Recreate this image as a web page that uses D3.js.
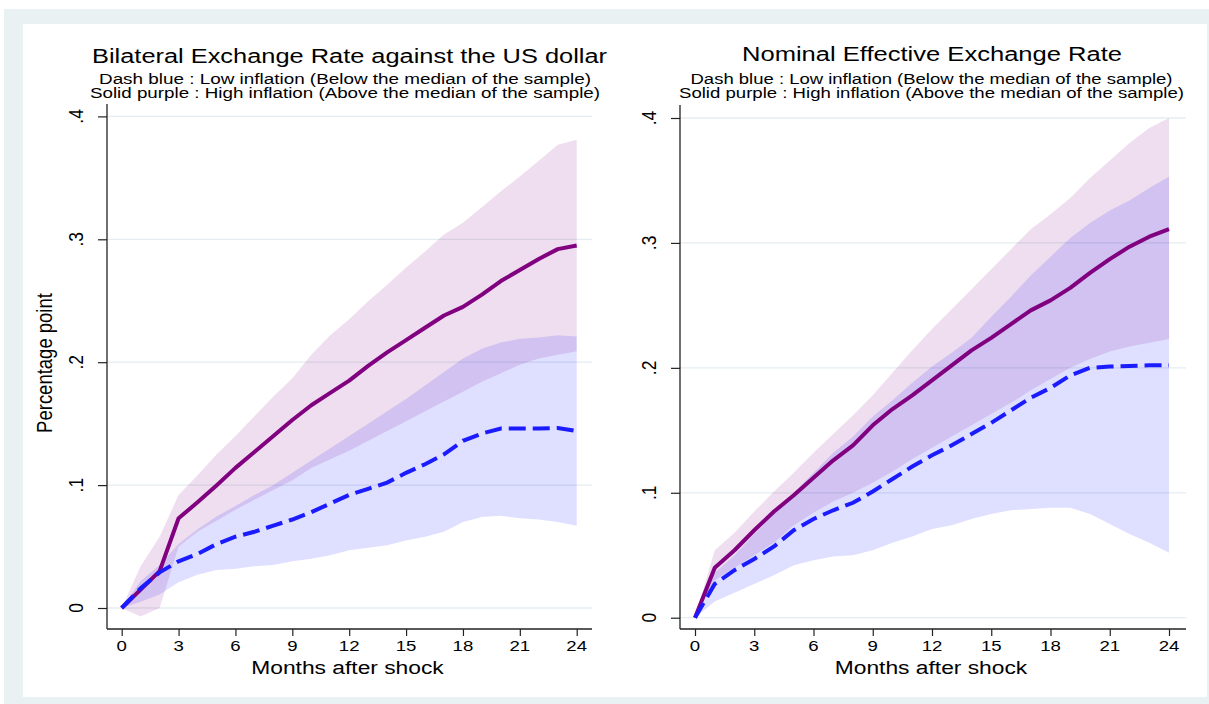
<!DOCTYPE html>
<html lang="en">
<head>
<meta charset="utf-8">
<title>Exchange rate responses</title>
<script src="https://d3js.org/d3.v7.min.js"></script>
<style>
  html, body { margin: 0; padding: 0; background: #ffffff; }
  svg text { font-family: "Liberation Sans", Arial, sans-serif; fill: #000; }
</style>
</head>
<body>
<div id="chart"></div>
<script>
// months after the shock and axis ticks
var months = [0,1,2,3,4,5,6,7,8,9,10,11,12,13,14,15,16,17,18,19,20,21,22,23,24];
var xTicks = [0,3,6,9,12,15,18,21,24];
var yTicks = [0,0.1,0.2,0.3,0.4];
var yTickLabels = ["0",".1",".2",".3",".4"];

// Bilateral exchange rate against the US dollar
var bilatHigh   = [0,0.015,0.030,0.073,0.086,0.0997,0.114,0.127,0.140,0.153,0.165,0.175,0.185,0.197,0.208,0.218,0.228,0.238,0.245,0.255,0.266,0.275,0.284,0.292,0.295];
var bilatHighUp = [0,0.034,0.058,0.092,0.108,0.125,0.140,0.156,0.172,0.187,0.206,0.222,0.235,0.2495,0.263,0.277,0.290,0.304,0.3135,0.326,0.339,0.351,0.364,0.377,0.381];
var bilatHighLo = [0,-0.007,0.000,0.050,0.062,0.071,0.080,0.088,0.096,0.104,0.114,0.121,0.128,0.136,0.144,0.152,0.160,0.168,0.176,0.184,0.191,0.198,0.203,0.206,0.209];
var bilatLow    = [0,0.016,0.029,0.038,0.044,0.052,0.058,0.062,0.067,0.072,0.078,0.085,0.092,0.097,0.102,0.110,0.117,0.125,0.136,0.142,0.146,0.146,0.146,0.1465,0.144];
var bilatLowUp  = [0,0.022,0.035,0.052,0.064,0.0745,0.083,0.092,0.100,0.110,0.120,0.130,0.140,0.150,0.160,0.170,0.181,0.192,0.203,0.211,0.216,0.219,0.220,0.222,0.221];
var bilatLowLo  = [0,0.005,0.011,0.021,0.027,0.031,0.032,0.034,0.035,0.038,0.040,0.043,0.047,0.049,0.051,0.055,0.058,0.062,0.070,0.074,0.075,0.073,0.072,0.070,0.067];

// Nominal effective exchange rate
var neerHigh   = [0,0.040,0.054,0.070,0.085,0.098,0.112,0.126,0.138,0.154,0.167,0.178,0.190,0.202,0.214,0.224,0.235,0.246,0.254,0.264,0.276,0.287,0.297,0.305,0.311];
var neerHighUp = [0,0.054,0.068,0.085,0.101,0.116,0.132,0.147,0.162,0.178,0.196,0.214,0.231,0.247,0.263,0.279,0.295,0.311,0.323,0.336,0.352,0.366,0.380,0.392,0.400];
var neerHighLo = [0,0.030,0.040,0.050,0.060,0.074,0.084,0.093,0.100,0.108,0.117,0.127,0.136,0.145,0.154,0.163,0.172,0.182,0.191,0.200,0.207,0.213,0.217,0.220,0.223];
var neerLow    = [0,0.027,0.038,0.047,0.057,0.070,0.079,0.086,0.092,0.101,0.111,0.121,0.130,0.138,0.147,0.156,0.166,0.176,0.184,0.194,0.200,0.201,0.2015,0.202,0.202];
var neerLowUp  = [0,0.036,0.050,0.067,0.083,0.100,0.116,0.132,0.145,0.161,0.174,0.188,0.201,0.212,0.224,0.241,0.257,0.274,0.289,0.304,0.316,0.326,0.334,0.344,0.353];
var neerLowLo  = [0,0.013,0.020,0.027,0.034,0.042,0.046,0.049,0.050,0.054,0.060,0.065,0.071,0.074,0.079,0.083,0.086,0.087,0.088,0.088,0.083,0.075,0.067,0.060,0.052];

var subtitle1 = "Dash blue : Low inflation (Below the median of the sample)";
var subtitle2 = "Solid purple : High inflation (Above the median of the sample)";

var W = 1209, H = 704;
var stretch = 1.2;   // text in the picture is a bit wider than plain Arial

var svg = d3.select("#chart").append("svg")
    .attr("width", W)
    .attr("height", H);

// outer frame, then the white plot region
svg.append("rect").attr("x", 4).attr("y", 9).attr("width", W - 4).attr("height", H - 9).attr("fill", "#eaf1f3");
svg.append("rect").attr("x", 23).attr("y", 24).attr("width", 1184).attr("height", 673).attr("fill", "#ffffff");

// text that is stretched sideways, optionally turned to read upwards
function wideText(g, x, y, str, size, turned) {
  return g.append("text")
    .attr("transform", "translate(" + x + "," + y + ") scale(" + stretch + ",1)" + (turned ? " rotate(-90)" : ""))
    .attr("text-anchor", "middle")
    .attr("dy", "0.35em")
    .style("font-size", size + "px")
    .text(str);
}

function drawPanel(p) {
  var g = svg.append("g");

  var x = d3.scaleLinear().domain([0, 24]).range([p.x0, p.x1]);
  var y = d3.scaleLinear().domain([0, 0.4]).range([p.y0, p.y4]);

  // gridlines
  g.selectAll(".grid").data(yTicks).enter().append("line")
    .attr("x1", p.axisX).attr("x2", p.gridEnd)
    .attr("y1", function(d) { return y(d); })
    .attr("y2", function(d) { return y(d); })
    .attr("stroke", "#e4edf1")
    .attr("stroke-width", 1.3);

  // confidence bands
  var band = function(lo, up) {
    return d3.area()
      .x(function(d, i) { return x(months[i]); })
      .y0(function(d, i) { return y(lo[i]); })
      .y1(function(d, i) { return y(up[i]); })(months);
  };
  g.append("path").attr("d", band(p.highLo, p.highUp))
    .attr("fill", "#800080").attr("fill-opacity", 0.13);
  g.append("path").attr("d", band(p.lowLo, p.lowUp))
    .attr("fill", "#0000ff").attr("fill-opacity", 0.125);

  // point estimates
  var line = function(vals) {
    return d3.line()
      .x(function(d, i) { return x(months[i]); })
      .y(function(d, i) { return y(vals[i]); })(months);
  };
  g.append("path").attr("d", line(p.high))
    .attr("fill", "none").attr("stroke", "#800080").attr("stroke-width", 4)
    .attr("stroke-linejoin", "round");
  g.append("path").attr("d", line(p.low))
    .attr("fill", "none").attr("stroke", "#1b1bff").attr("stroke-width", 4)
    .attr("stroke-dasharray", "17,7");

  // axes
  var yAxis = g.append("g")
    .attr("transform", "translate(" + p.axisX + ",0)")
    .call(d3.axisLeft(y).tickValues(yTicks).tickSize(9).tickSizeOuter(0)
      .tickFormat(function(d, i) { return yTickLabels[i]; }));
  yAxis.select(".domain").remove();
  yAxis.selectAll(".tick line").attr("stroke", "#222").attr("stroke-width", 1.2);
  yAxis.selectAll(".tick text").remove();
  yTicks.forEach(function(t, i) {
    wideText(g, p.axisX - 31, y(t), yTickLabels[i], 17.5, true);
  });

  var xAxis = g.append("g")
    .attr("transform", "translate(0," + p.axisY + ")")
    .call(d3.axisBottom(x).tickValues(xTicks).tickSize(7).tickSizeOuter(0));
  xAxis.select(".domain").remove();
  xAxis.selectAll(".tick line").attr("stroke", "#222").attr("stroke-width", 1.2);
  xAxis.selectAll(".tick text").remove();
  xTicks.forEach(function(t) {
    wideText(g, x(t), p.axisY + 17, String(t), 15.5, false);
  });

  g.append("line")
    .attr("x1", p.axisX).attr("x2", p.axisX)
    .attr("y1", p.axisTop).attr("y2", p.axisY)
    .attr("stroke", "#222").attr("stroke-width", 1.3);
  g.append("line")
    .attr("x1", p.axisX).attr("x2", p.gridEnd)
    .attr("y1", p.axisY).attr("y2", p.axisY)
    .attr("stroke", "#222").attr("stroke-width", 1.3);

  wideText(g, p.xTitleX, p.axisY + 38, "Months after shock", 19, false);

  // titles
  g.append("text")
    .attr("x", p.titleX - p.titleW / 2).attr("y", p.titleY)
    .attr("textLength", p.titleW).attr("lengthAdjust", "spacingAndGlyphs")
    .style("font-size", "20px")
    .text(p.title);
  g.append("text")
    .attr("x", p.subX - p.sub1W / 2).attr("y", 84)
    .attr("textLength", p.sub1W).attr("lengthAdjust", "spacingAndGlyphs")
    .style("font-size", "13.8px")
    .text(subtitle1);
  g.append("text")
    .attr("x", p.subX - p.sub2W / 2).attr("y", 97.5)
    .attr("textLength", p.sub2W).attr("lengthAdjust", "spacingAndGlyphs")
    .style("font-size", "13.8px")
    .text(subtitle2);

  return g;
}

var left = drawPanel({
  x0: 121.7, x1: 576.7, y0: 608, y4: 116.4,
  axisX: 107, axisY: 629, axisTop: 104, gridEnd: 592,
  xTitleX: 347.5,
  title: "Bilateral Exchange Rate against the US dollar", titleX: 349.5, titleY: 63, titleW: 515,
  subX: 345, sub1W: 492, sub2W: 510,
  high: bilatHigh, highUp: bilatHighUp, highLo: bilatHighLo,
  low: bilatLow, lowUp: bilatLowUp, lowLo: bilatLowLo
});

drawPanel({
  x0: 695, x1: 1169, y0: 617.7, y4: 118,
  axisX: 680, axisY: 629, axisTop: 105, gridEnd: 1186,
  xTitleX: 931,
  title: "Nominal Effective Exchange Rate", titleX: 932, titleY: 61, titleW: 380,
  subX: 931.5, sub1W: 482, sub2W: 505,
  high: neerHigh, highUp: neerHighUp, highLo: neerHighLo,
  low: neerLow, lowUp: neerLowUp, lowLo: neerLowLo
});

// y axis title, only on the left panel
wideText(left, 44, 363, "Percentage point", 18.5, true);
</script>
</body>
</html>
